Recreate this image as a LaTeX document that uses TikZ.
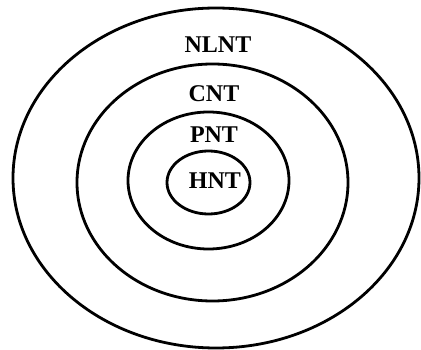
\documentclass[tikz,border=0pt]{standalone}
\usepackage{fontspec}
\setmainfont{Liberation Serif}
\usetikzlibrary{shapes.geometric}
\begin{document}
\begin{tikzpicture}[x=1pt,y=-1pt,
  ring/.style={draw=black, line width=2.8pt, ellipse, inner sep=0pt, outer sep=0pt},
  lbl/.style={font=\bfseries\fontsize{24}{26}\selectfont, inner sep=0pt, anchor=center}]
\useasboundingbox (0,0) rectangle (421,350);
\node[ring, minimum width=406pt, minimum height=340pt] (nlnt) at (216,178) {};
\node[ring, minimum width=271pt, minimum height=237pt] (cnt) at (212.5,182.5) {};
\node[ring, minimum width=161pt, minimum height=137pt] (pnt) at (208.5,180.5) {};
\node[ring, minimum width=83pt, minimum height=63pt] (hnt) at (208.5,182.5) {};
\node[lbl] (tnlnt) at (218,45) {NLNT};
\node[lbl] (tcnt) at (214,94) {CNT};
\node[lbl] (tpnt) at (214,135) {PNT};
\node[lbl] (thnt) at (215,181) {HNT};
\end{tikzpicture}
\end{document}
